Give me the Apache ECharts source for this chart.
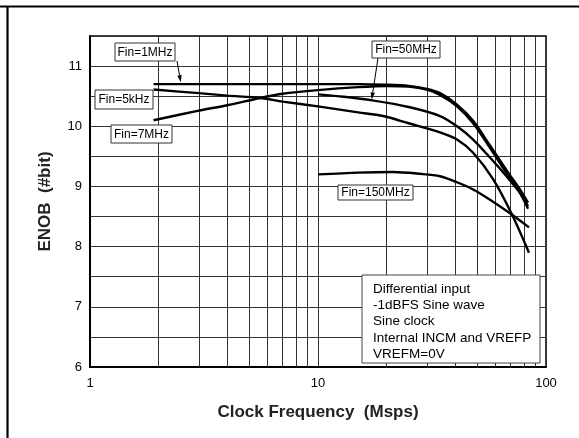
<!DOCTYPE html>
<html>
<head>
<meta charset="utf-8">
<script src="https://cdn.jsdelivr.net/npm/echarts@6/dist/echarts.min.js"></script>
<style>
  html, body { margin: 0; padding: 0; background: #fff; }
  #chart { width: 579px; height: 438px; }
</style>
</head>
<body>
<div id="chart"></div>
<script>
const FONT = '"Liberation Sans", Arial, Helvetica, sans-serif';

// Clock frequency (Msps) and ENOB (bits) for each input frequency
const clk5kHz  = [1.9, 3, 4, 5.57, 7, 10, 15, 19.3, 25, 34.3, 40.7, 47.9, 58.6, 71, 84.2];
const enob5kHz = [10.61, 10.55, 10.51, 10.47, 10.41, 10.33, 10.23, 10.17, 10.05, 9.9, 9.78, 9.56, 9.12, 8.53, 7.9];

const clk1MHz  = [1.9, 3, 5, 10, 15, 20, 25, 30, 34.3, 40.7, 47.9, 56.8, 67.4, 76, 83.4];
const enob1MHz = [10.70, 10.70, 10.70, 10.70, 10.70, 10.69, 10.67, 10.62, 10.55, 10.36, 10.09, 9.68, 9.26, 8.98, 8.73];

const clk7MHz  = [1.9, 3, 4, 5.57, 7, 10, 15, 20, 25, 30, 34.3, 40.7, 47.9, 56.8, 67.4, 76, 83.4];
const enob7MHz = [10.10, 10.26, 10.35, 10.47, 10.54, 10.60, 10.65, 10.67, 10.66, 10.61, 10.52, 10.33, 10.05, 9.64, 9.21, 8.93, 8.63];

const clk50MHz  = [10, 13, 17.3, 25, 34.3, 40.7, 47.9, 56.8, 67.4, 76, 83.4];
const enob50MHz = [10.53, 10.49, 10.43, 10.32, 10.17, 10.0, 9.78, 9.48, 9.16, 8.92, 8.67];

const clk150MHz  = [10, 15, 21.3, 28, 34.3, 40.7, 47.9, 56.8, 71, 84.2];
const enob150MHz = [9.20, 9.23, 9.24, 9.21, 9.17, 9.07, 8.95, 8.78, 8.53, 8.32];

// log-decade subdivisions drawn as vertical grid lines
const minorGridMsps = [2, 3, 4, 5, 6, 7, 8, 9, 20, 30, 40, 50, 60, 70, 80, 90];
const yTickLabels = [6, 7, 8, 9, 10, 11];

const noteLines = ['Differential input', '-1dBFS Sine wave', 'Sine clock', 'Internal INCM and VREFP', 'VREFM=0V'];

const zip = (xs, ys) => xs.map((x, i) => [x, ys[i]]);

const curve = (name, xs, ys, extra) => Object.assign({
  name, type: 'line', data: zip(xs, ys),
  smooth: 0.3, showSymbol: false, symbol: 'none',
  lineStyle: { color: '#000', width: 2.4 }, silent: true, z: 3
}, extra || {});

const chart = echarts.init(document.getElementById('chart'), null, { renderer: 'canvas' });

chart.setOption({
  animation: false,
  backgroundColor: '#fff',
  grid: { left: 90, right: 33, top: 36, bottom: 71, show: true, borderColor: '#000', borderWidth: 1.5 },
  xAxis: {
    type: 'log', logBase: 10, min: 1, max: 100,
    name: 'Clock Frequency  (Msps)', nameLocation: 'middle', nameGap: 37,
    nameTextStyle: { fontFamily: FONT, fontWeight: 'bold', fontSize: 17, color: '#222' },
    axisLine: { show: true, lineStyle: { color: '#000', width: 2 } },
    axisTick: { show: false },
    axisLabel: { fontFamily: FONT, fontSize: 13, color: '#000', margin: 10 },
    splitLine: { show: true, lineStyle: { color: '#333', width: 1 } },
    minorTick: { show: false }, minorSplitLine: { show: false }
  },
  yAxis: {
    type: 'value', min: 6, max: 11.5, interval: 0.5,
    name: 'ENOB  (#bit)', nameLocation: 'middle', nameGap: 36, nameRotate: 90,
    nameTextStyle: { fontFamily: FONT, fontWeight: 'bold', fontSize: 17, color: '#222' },
    axisLine: { show: true, lineStyle: { color: '#000', width: 2 } },
    axisTick: { show: false },
    axisLabel: {
      fontFamily: FONT, fontSize: 13, color: '#000', margin: 8,
      formatter: v => (yTickLabels.includes(v) ? String(v) : '')
    },
    splitLine: { show: true, lineStyle: { color: '#333', width: 1 } }
  },
  series: [
    // carries the sub-decade vertical grid lines
    {
      type: 'line', data: [], silent: true, z: 1,
      markLine: {
        silent: true, symbol: ['none', 'none'], label: { show: false },
        lineStyle: { color: '#333', width: 1, type: 'solid' },
        emphasis: { disabled: true }, animation: false, z: 1,
        data: minorGridMsps.map(v => ({ xAxis: v }))
      }
    },
    curve('Fin=5kHz', clk5kHz, enob5kHz),
    curve('Fin=1MHz', clk1MHz, enob1MHz),
    curve('Fin=7MHz', clk7MHz, enob7MHz),
    curve('Fin=50MHz', clk50MHz, enob50MHz),
    curve('Fin=150MHz', clk150MHz, enob150MHz)
  ]
});

// annotation boxes, arrows and page frame
function tag(text, x, y, w, h) {
  return {
    type: 'group', z: 100,
    children: [
      { type: 'rect', z: 100, shape: { x, y, width: w, height: h },
        style: { fill: '#fff', stroke: '#333', lineWidth: 1 } },
      { type: 'text', z: 101, x: x + w / 2, y: y + h / 2 + 0.5,
        style: { text, font: '12px ' + FONT, fill: '#000', align: 'center', verticalAlign: 'middle' } }
    ]
  };
}

function arrow(from, to) {
  const dx = to[0] - from[0], dy = to[1] - from[1];
  const len = Math.hypot(dx, dy), ux = dx / len, uy = dy / len;
  const hl = 7, hw = 2.2;
  const bx = to[0] - ux * hl, by = to[1] - uy * hl;
  return {
    type: 'group', z: 100,
    children: [
      { type: 'line', z: 100, shape: { x1: from[0], y1: from[1], x2: bx, y2: by },
        style: { stroke: '#000', lineWidth: 1 } },
      { type: 'polygon', z: 100, shape: { points: [[to[0], to[1]], [bx - uy * hw, by + ux * hw], [bx + uy * hw, by - ux * hw]] },
        style: { fill: '#000' } }
    ]
  };
}

const tip1 = chart.convertToPixel({ gridIndex: 0 }, [2.5, 10.7]);
const tip50 = chart.convertToPixel({ gridIndex: 0 }, [17.2, 10.43]);

const noteX = 362, noteY = 275, noteW = 178, noteH = 88;

chart.setOption({
  graphic: [
    { type: 'line', z: 100, shape: { x1: 0, y1: 6.5, x2: 579, y2: 6.5 }, style: { stroke: '#000', lineWidth: 2.2 } },
    { type: 'line', z: 100, shape: { x1: 7.5, y1: 6, x2: 7.5, y2: 438 }, style: { stroke: '#000', lineWidth: 2.2 } },
    tag('Fin=1MHz', 115, 43, 60, 18),
    tag('Fin=5kHz', 95, 90, 58, 19),
    tag('Fin=7MHz', 111, 125, 61, 18),
    tag('Fin=50MHz', 372, 41, 68, 17),
    tag('Fin=150MHz', 338, 185, 75, 15),
    arrow([177, 61], [tip1[0], tip1[1] - 2]),
    arrow([378, 58], [tip50[0], tip50[1] - 1]),
    {
      type: 'group', z: 100,
      children: [
        { type: 'rect', z: 100, shape: { x: noteX, y: noteY, width: noteW, height: noteH },
          style: { fill: '#fff', stroke: '#444', lineWidth: 1 } },
        { type: 'text', z: 101, x: noteX + 11, y: noteY + 6,
          style: { text: noteLines.join('\n'), font: '13.5px ' + FONT, fill: '#000', lineHeight: 16.3, verticalAlign: 'top' } }
      ]
    }
  ]
});
</script>
</body>
</html>
